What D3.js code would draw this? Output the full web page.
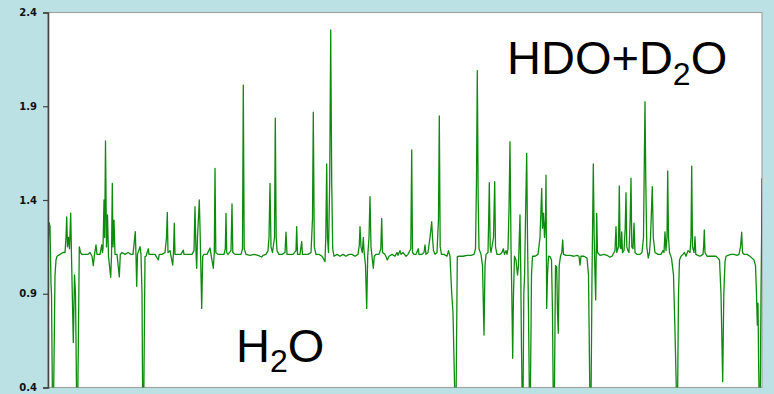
<!DOCTYPE html>
<html>
<head>
<meta charset="utf-8">
<script src="https://cdn.jsdelivr.net/npm/d3@7"></script>
<style>
  body { margin: 0; background: #bbe1e4; }
  svg { display: block; font-family: "Liberation Sans", Arial, sans-serif; }
  .label { font-size: 47px; fill: #000; }
</style>
</head>
<body>
<div id="chart"></div>
<script>
var width = 774, height = 394;
var margin = {top: 12.5, right: 12, bottom: 6.5, left: 48};

// y axis ticks
var yTicks = [0.4, 0.9, 1.4, 1.9, 2.4];

// spectrum, [channel, absorbance], split by region
var spectrumA = [[0,1.10],[1,1.28],[2,1.26],[3,0.95],[3.5,0.9],[4.5,0.3],[5.5,0.3],[7,1.0],[8,1.08],[9,1.10],[12,1.11],[15,1.12],[17,1.12],[18,1.2],[18.7,1.31],[19.5,1.15],[20.5,1.2],[21.5,1.14],[22.7,1.33],[23.5,1.1],[25.3,0.64],[26.5,1.0],[27.5,0.9],[28.7,0.3],[29.7,0.3],[31.3,1.15],[32.5,1.12],[34,1.11],[37,1.11],[40,1.11],[42,1.12],[44,1.1],[45.3,1.05],[46.5,1.11],[48,1.16],[49,1.11],[52,1.11],[53.7,1.16],[54.5,1.12],[55,1.14],[56,1.40],[56.7,1.2],[57.5,1.715],[58.5,1.15],[59.5,1.32],[60.5,1.1],[62.7,0.988],[63.5,1.1],[64.3,1.489],[65,1.15],[66,1.293],[67,1.11],[69,1.11],[71.3,0.99],[72.3,1.11],[74,1.12],[77,1.11],[80,1.12],[83,1.11],[85,1.11],[87.3,1.231],[88,1.1],[88.7,0.94],[89.5,1.11],[92,1.151],[93,1.11],[94,0.9],[94.7,0.3],[95.7,0.3],[97,1.098],[98,1.1],[100.3,1.14],[101,1.11],[104,1.11],[107,1.11],[110.3,1.08],[111.3,1.11],[114,1.11],[117,1.12],[118.5,1.2],[119.3,1.334],[120,1.12],[122,1.13],[124.7,1.053],[125.5,1.12],[126.3,1.276],[127,1.11],[130,1.11],[133,1.11],[135.3,1.133],[136,1.11],[140,1.11],[144,1.11],[146,1.13],[147,1.364],[148,1.12],[148.7,1.036],[149.5,1.2],[151.3,1.4],[152,1.258],[153.7,0.822],[154.7,1.1]];

var spectrumB = [[156,1.11],[159,1.11],[162,1.144],[163,1.11],[165.3,1.036],[166.3,1.12],[167,1.569],[167.8,1.12],[170,1.11],[173,1.11],[176,1.11],[177.3,1.14],[178,1.329],[178.7,1.12],[180,1.11],[183,1.13],[184,1.379],[184.8,1.12],[187,1.11],[190,1.11],[193,1.11],[194.5,1.14],[195.3,2.013],[196.2,1.14],[198,1.11],[202,1.105],[206,1.11],[210,1.105],[213.7,1.096],[215,1.105],[218,1.11],[220,1.13],[221,1.2],[222,1.489],[223,1.15],[224.5,1.12],[226.5,1.2],[227.3,1.836],[228.2,1.2],[229,1.13],[231,1.11],[234,1.11],[237,1.12],[238,1.228],[239,1.11],[242,1.11],[245,1.11],[248,1.13],[248.7,1.258],[249.5,1.11],[252,1.11],[253.7,1.178],[254.5,1.11],[257,1.11],[260,1.11],[263,1.12],[264.5,1.3],[265.3,1.868],[266.3,1.15],[268,1.11],[271,1.11],[274,1.1],[277,1.071],[277.8,1.2],[278.7,1.592],[279.5,1.2],[280.5,1.12],[281.7,1.5],[282.7,2.307],[283.7,1.5],[284.7,1.14],[286,1.1],[289,1.11],[292,1.1],[295,1.11],[298,1.1],[301,1.11],[304,1.11],[307,1.1],[310,1.11],[311.3,1.16],[312,1.258],[313,1.15],[314.3,1.12],[315.3,1.2],[316,1.13],[317.5,1.05],[318.7,0.822],[319.7,1.1],[321,1.2],[322,1.418],[323,1.15],[324,1.1],[325.3,1.036],[326.3,1.1]];

var spectrumC = [[328,1.11],[331,1.11],[332.8,1.14],[333.7,1.302],[334.5,1.12],[337,1.11],[339.3,1.08],[341,1.1],[344,1.11],[347,1.1],[349,1.12],[350,1.105],[352,1.13],[353,1.11],[355,1.12],[356.5,1.11],[358,1.1],[360,1.11],[362.8,1.14],[363.7,1.667],[364.5,1.12],[366,1.11],[368,1.11],[370.3,1.14],[371,1.11],[374,1.11],[376,1.12],[377,1.16],[378,1.11],[380,1.12],[382,1.2],[383.7,1.284],[384.5,1.2],[385.5,1.13],[387,1.11],[389,1.12],[390.5,1.3],[391.3,1.848],[392.2,1.15],[393.5,1.11],[396,1.11],[399,1.1],[400.5,1.13],[402,1.1],[403.7,0.902],[405,0.8],[407,0.3],[408,0.3],[409.3,1.098],[411,1.1],[415,1.1],[419,1.105],[423,1.105],[426,1.11],[427.5,1.14],[428.5,1.5],[429.3,2.09],[430.2,1.4],[431,1.14],[433,1.11],[434.5,1.05],[436,0.68],[437,1.05],[438,1.11],[440,1.12],[440.7,1.3],[441.3,1.492],[442.2,1.15],[443,1.12],[445.5,1.2],[446.7,1.498],[447.5,1.15],[449,1.11],[452,1.11],[454,1.12],[455.3,1.14],[456.5,1.11],[458,1.13],[459,1.11],[460,1.14],[461,1.35],[462,1.711],[463,1.15],[463.8,0.9],[464.7,0.556],[465.5,0.9],[466.5,1.1],[468,1.08],[469.5,1.0],[470.5,1.05],[471.3,1.2],[472,1.32],[472.8,1.0],[473.5,0.6],[474.3,0.3],[475,0.3],[475.8,0.9],[476.6,1.0],[477.5,1.3],[478.7,1.649],[479.5,1.2],[480.5,0.8],[481.5,0.3],[482.3,0.3],[483.5,1.0],[484.5,1.1],[487,1.1],[490,1.11],[492,1.2],[493.7,1.462],[494.5,1.25],[495.5,1.33],[496.5,1.2],[497.5,1.3],[498,1.533],[498.7,0.822],[499.5,1.0],[500.5,1.1]];

var spectrumD = [[502,1.098],[503.5,1.08],[504.5,0.8],[505.3,0.3],[506.3,0.3],[507.5,1.05],[508.7,1.044],[509.5,0.8],[510.3,0.689],[511.2,1.05],[512.5,1.1],[513.8,1.12],[514.7,1.187],[515.5,1.11],[518,1.105],[522,1.105],[526,1.1],[529,1.105],[531,1.1],[532,1.053],[533,1.1],[536,1.1],[539,1.09],[540.5,1.0],[542,0.3],[543,0.3],[544,1.0],[544.7,1.3],[545.3,1.592],[546.2,1.2],[547,1.0],[547.7,0.867],[548.2,1.1],[548.7,1.329],[549.5,1.12],[552,1.105],[556,1.11],[559,1.105],[562,1.095],[564,1.1],[566,1.12],[567,1.13],[568,1.258],[568.8,1.12],[570.5,1.15],[571.3,1.475],[572.1,1.15],[573,1.14],[573.7,1.23],[574.5,1.12],[576,1.13],[577.2,1.25],[578,1.439],[578.8,1.15],[580,1.13],[581,1.12],[582.2,1.3],[583,1.516],[583.8,1.15],[585,1.14],[586,1.276],[587,1.12],[589,1.11],[592,1.11],[594,1.12],[595.5,1.2],[596.3,1.6],[597,1.924],[597.8,1.5],[598.8,1.15],[600.3,1.09],[601.5,1.12],[602.5,1.2],[603.5,1.35],[604.3,1.471],[605.3,1.2],[607,1.12],[610,1.11],[613,1.11],[615,1.13],[616,1.12],[617,1.23],[618,1.13],[619,1.2],[619.7,1.555],[620.5,1.2],[621.5,1.12],[623.5,1.09],[625.5,1.0],[627,0.7],[628.7,0.3],[629.5,0.3],[630.5,0.9],[631.5,1.08],[633,1.1],[635,1.11],[636.5,1.12],[638,1.1],[640,1.13],[642,1.12],[643,1.2],[643.7,1.581],[644.5,1.15],[646,1.12],[647,1.204],[647.8,1.11],[650,1.105],[652,1.1],[655,1.11],[655.7,1.16],[656.3,1.24],[657,1.12],[659,1.1],[662,1.1],[665,1.1],[668,1.1],[670,1.09],[671.5,1.08],[673,0.9],[674.7,0.431],[675.8,0.9],[677,1.07],[678,1.1],[680,1.105],[683,1.11],[686,1.11],[689,1.105],[691,1.11],[692.5,1.15],[693.7,1.228],[694.5,1.12],[696,1.11],[699,1.11],[702,1.1],[704,1.09],[706,1.08],[707.5,1.05],[708.5,0.9],[709.3,0.733],[710,0.85],[710.7,0.5],[711.3,0.3],[712.2,0.3],[713,0.9],[713.6,1.2],[714,1.516]];

var spectrum = spectrumA.concat(spectrumB, spectrumC, spectrumD);

var svg = d3.select("#chart").append("svg")
  .attr("width", width)
  .attr("height", height);

var x = d3.scaleLinear()
  .domain([0, 714])
  .range([margin.left, width - margin.right]);

var y = d3.scaleLinear()
  .domain([0.4, 2.4])
  .range([height - margin.bottom, margin.top]);

// plot area
svg.append("rect")
  .attr("x", x(0))
  .attr("y", y(2.4))
  .attr("width", x(714) - x(0))
  .attr("height", y(0.4) - y(2.4))
  .attr("fill", "#fff")
  .attr("stroke", "#a3a3a3")
  .attr("stroke-width", 1.2);

svg.append("clipPath")
    .attr("id", "plot-clip")
  .append("rect")
    .attr("x", x(0))
    .attr("y", y(2.4))
    .attr("width", x(714) - x(0))
    .attr("height", y(0.4) - y(2.4));

var line = d3.line()
  .x(function(d) { return x(d[0]); })
  .y(function(d) { return y(d[1]); });

svg.append("path")
  .datum(spectrum)
  .attr("clip-path", "url(#plot-clip)")
  .attr("fill", "none")
  .attr("stroke", "#0e8a0e")
  .attr("stroke-width", 1.3)
  .attr("stroke-linejoin", "round")
  .attr("d", line);

var yAxis = svg.append("g")
  .attr("transform", "translate(" + margin.left + ",0)")
  .call(d3.axisLeft(y)
    .tickValues(yTicks)
    .tickFormat(d3.format(".1f"))
    .tickSize(5)
    .tickPadding(6));

yAxis.select(".domain").attr("stroke", "#444").attr("stroke-width", 1.6);
yAxis.selectAll(".tick line").attr("stroke", "#444").attr("stroke-width", 1.2);
yAxis.selectAll(".tick text")
  .attr("fill", "#111")
  .style("font-family", "'DejaVu Sans', sans-serif")
  .style("font-weight", "bold")
  .style("font-size", "10px");

// labels
var h2o = svg.append("text")
  .attr("class", "label")
  .attr("x", x(188))
  .attr("y", y(0.535));
h2o.append("tspan").text("H");
h2o.append("tspan").attr("dy", 10).style("font-size", "32px").text("2");
h2o.append("tspan").attr("dy", -10).text("O");

var hdo = svg.append("text")
  .attr("class", "label")
  .attr("x", x(459))
  .attr("y", y(2.07));
hdo.append("tspan").text("HDO+D");
hdo.append("tspan").attr("dy", 11).style("font-size", "32px").text("2");
hdo.append("tspan").attr("dy", -11).text("O");
</script>
</body>
</html>
